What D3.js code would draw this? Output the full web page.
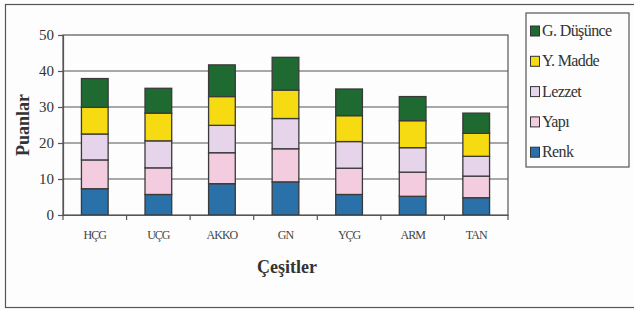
<!DOCTYPE html>
<html>
<head>
<meta charset="utf-8">
<script src="https://cdn.jsdelivr.net/npm/d3@7"></script>
<style>
  body { margin: 0; background: #fdfdfd; }
  svg { display: block; }
  svg text { font-family: "Liberation Serif", "Times New Roman", Times, "DejaVu Serif", "Noto Serif", serif; }
</style>
</head>
<body>
<script>
// categories and series (segment heights, bottom to top)
let categories = ["HÇG", "UÇG", "AKKO", "GN", "YÇG", "ARM", "TAN"]
let renk      = [7.3, 5.7, 8.7, 9.2, 5.7, 5.2, 4.8]
let yapi      = [8.0, 7.4, 8.6, 9.2, 7.3, 6.7, 6.0]
let lezzet    = [7.2, 7.5, 7.6, 8.4, 7.4, 6.8, 5.5]
let yMadde    = [7.4, 7.7, 8.0, 7.9, 7.2, 7.5, 6.4]
let gDusunce  = [8.0, 6.9, 8.8, 9.1, 7.4, 6.7, 5.6]
let seriesNames = ["Renk", "Yapı", "Lezzet", "Y. Madde", "G. Düşünce"]
let seriesColors = ["#2a71aa", "#f4cce0", "#e6d5ea", "#f6da12", "#1f6a31"]
let yTicks = [0, 10, 20, 30, 40, 50]

let rows = categories.map((c, i) => ({
  cat: c,
  "Renk": renk[i], "Yapı": yapi[i], "Lezzet": lezzet[i],
  "Y. Madde": yMadde[i], "G. Düşünce": gDusunce[i]
}))
let stacked = d3.stack().keys(seriesNames)(rows)

let svg = d3.select("body").append("svg")
  .attr("width", 634).attr("height", 310)

// outer frame of the figure
svg.append("rect")
  .attr("x", 5.5).attr("y", 4.5).attr("width", 640).attr("height", 303)
  .attr("fill", "#fdfdfd").attr("stroke", "#555").attr("stroke-width", 1.2)

let x = d3.scaleBand().domain(categories).range([63, 508]).paddingInner(0.58).paddingOuter(0.29)
let y = d3.scaleLinear().domain([0, 50]).range([215, 35])
let color = d3.scaleOrdinal().domain(seriesNames).range(seriesColors)

// plot frame
svg.append("rect")
  .attr("x", 63).attr("y", 35).attr("width", 445).attr("height", 180)
  .attr("fill", "none").attr("stroke", "#555").attr("stroke-width", 1.2)

// gridlines
svg.append("g").selectAll("line")
  .data(yTicks.slice(1, -1))
  .enter().append("line")
  .attr("x1", 63).attr("x2", 508)
  .attr("y1", d => y(d)).attr("y2", d => y(d))
  .attr("stroke", "#555").attr("stroke-width", 1.2)

// bars
svg.append("g").selectAll("g")
  .data(stacked)
  .enter().append("g")
  .attr("fill", d => color(d.key))
  .selectAll("rect")
  .data(d => d)
  .enter().append("rect")
  .attr("x", d => x(d.data.cat))
  .attr("width", x.bandwidth())
  .attr("y", d => y(d[1]))
  .attr("height", d => y(d[0]) - y(d[1]))
  .attr("stroke", "#3a3a3a").attr("stroke-width", 1.3)

// y axis
let yAxis = svg.append("g")
  .attr("transform", "translate(63,0)")
  .call(d3.axisLeft(y).tickValues(yTicks).tickSize(5).tickPadding(4))
yAxis.attr("font-family", null)
yAxis.select(".domain").attr("stroke", "#555").attr("stroke-width", 1.2)
yAxis.selectAll(".tick line").attr("stroke", "#555").attr("stroke-width", 1.2)
yAxis.selectAll("text").attr("font-size", 15).attr("fill", "#333")

// x axis, ticks sit between categories
let xAxis = svg.append("g")
  .attr("transform", "translate(0,215)")
  .call(d3.axisBottom(x).tickSize(0).tickPadding(15))
xAxis.attr("font-family", null)
xAxis.select(".domain").attr("stroke", "#555").attr("stroke-width", 1.2)
xAxis.selectAll("text")
  .attr("font-size", 12).attr("letter-spacing", -1).attr("fill", "#444")
svg.append("g").selectAll("line")
  .data(d3.range(categories.length + 1))
  .enter().append("line")
  .attr("x1", i => 63 + i * (445 / categories.length))
  .attr("x2", i => 63 + i * (445 / categories.length))
  .attr("y1", 215).attr("y2", 220)
  .attr("stroke", "#555").attr("stroke-width", 1.2)

// axis titles
svg.append("text")
  .attr("transform", "translate(29,125) rotate(-90)")
  .attr("text-anchor", "middle")
  .attr("font-size", 18).attr("font-weight", "bold").attr("fill", "#333")
  .text("Puanlar")
svg.append("text")
  .attr("x", 287).attr("y", 273)
  .attr("text-anchor", "middle")
  .attr("font-size", 18).attr("font-weight", "bold").attr("fill", "#333")
  .text("Çeşitler")

// legend, top entry is the top of the stack
let legend = svg.append("g")
legend.append("rect")
  .attr("x", 526).attr("y", 13).attr("width", 103).attr("height", 154)
  .attr("fill", "none").attr("stroke", "#555").attr("stroke-width", 1.2)
let items = legend.selectAll("g.item")
  .data(seriesNames.slice().reverse())
  .enter().append("g")
  .attr("class", "item")
  .attr("transform", (d, i) => `translate(530,${31 + i * 30.3})`)
items.append("rect")
  .attr("x", 0.5).attr("y", -5).attr("width", 9).attr("height", 10)
  .attr("fill", d => color(d)).attr("stroke", "#333").attr("stroke-width", 1)
items.append("text")
  .attr("x", 12).attr("y", 5)
  .attr("font-size", 16).attr("letter-spacing", -0.6).attr("fill", "#333")
  .text(d => d)
</script>
</body>
</html>
